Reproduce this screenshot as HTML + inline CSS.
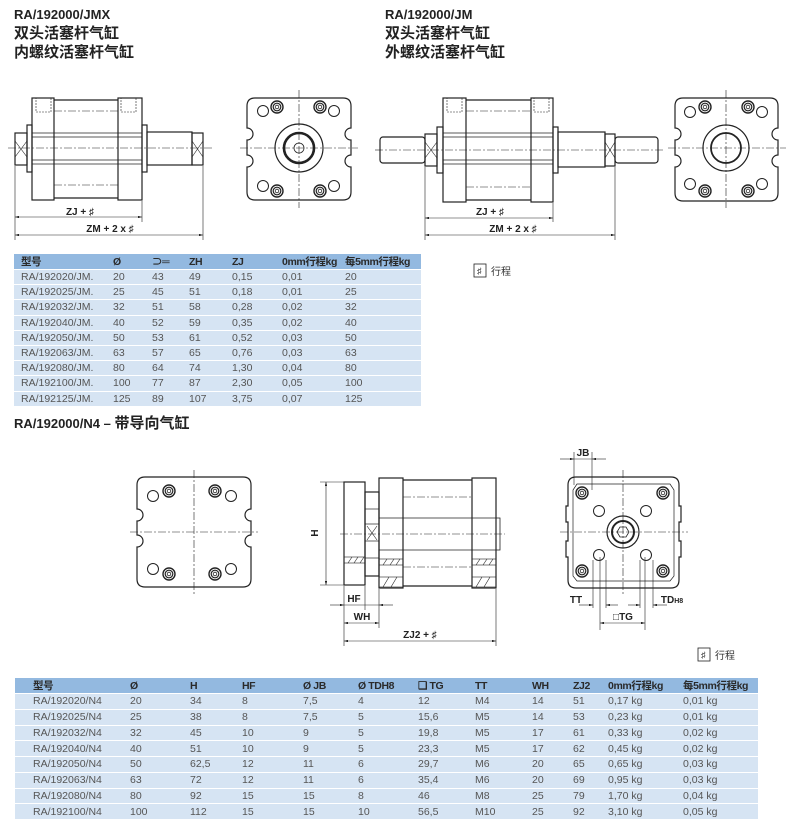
<!DOCTYPE html>
<html><head><meta charset="utf-8">
<style>
*{margin:0;padding:0;box-sizing:border-box}
body{width:790px;height:824px;background:#fff;position:relative;overflow:hidden;font-family:"Liberation Sans","Noto Sans CJK SC",sans-serif;color:#222}
.t{position:absolute;font-weight:bold;font-size:13px;line-height:19px}
.t .c{font-size:15px}
table{position:absolute;border-collapse:collapse;table-layout:fixed;font-family:"Liberation Sans Narrow","Liberation Sans","Noto Sans CJK SC",sans-serif;font-size:10.5px;color:#555}
td{padding:0;white-space:nowrap;overflow:hidden;border-bottom:1px solid #fff;vertical-align:middle}
tr.h td{background:#93b9e0;color:#2a2a2a;font-weight:bold;letter-spacing:-0.4px}
tr.r td{background:#d6e4f3}
#t1 tr.h td{height:14px} #t1 tr.r td{height:15.2px}
#t2 tr.h td{height:14px} #t2 tr.r td{height:15.75px}
</style></head><body>
<div class="t" style="left:14px;top:5px">RA/192000/JMX<br><span class="c">双头活塞杆气缸</span><br><span class="c">内螺纹活塞杆气缸</span></div>
<div class="t" style="left:385px;top:5px">RA/192000/JM<br><span class="c">双头活塞杆气缸</span><br><span class="c">外螺纹活塞杆气缸</span></div>
<div class="t" style="left:14px;top:414px">RA/192000/N4 – <span class="c">带导向气缸</span></div>

<svg width="790" height="824" style="position:absolute;left:0;top:0" xmlns="http://www.w3.org/2000/svg">
<defs>
<marker id="a" viewBox="0 0 10 6" refX="10" refY="3" markerWidth="8" markerHeight="4" orient="auto-start-reverse"><path d="M0,0L10,3L0,6z" fill="#222"/></marker>
<g id="cb"><circle r="6" fill="none" stroke="#222" stroke-width="1.4"/><circle r="3.8" fill="none" stroke="#222" stroke-width="1.2"/><circle r="1.8" fill="none" stroke="#222" stroke-width="0.8"/></g>
<g id="ph"><circle r="5.5" fill="none" stroke="#222" stroke-width="1"/></g>
</defs>
<g fill="none" stroke="#222" stroke-width="1.2">
<rect x="32" y="98" width="22" height="102"/><rect x="118" y="98" width="24" height="102"/>
<line x1="54" y1="100" x2="118" y2="100"/><line x1="54" y1="198" x2="118" y2="198"/>
<rect x="27" y="125" width="5" height="47"/><rect x="142" y="125" width="5" height="47"/>
<line x1="32" y1="133" x2="142" y2="133" stroke-width=".7"/><line x1="32" y1="137" x2="142" y2="137" stroke-width=".7"/>
<line x1="32" y1="160" x2="142" y2="160" stroke-width=".7"/><line x1="32" y1="164" x2="142" y2="164" stroke-width=".7"/>
<rect x="15" y="133" width="12" height="32"/><path d="M15,141L27,157M27,141L15,157" stroke-width=".6"/>
<rect x="147" y="132" width="45" height="33"/><rect x="192" y="133" width="11" height="32"/><path d="M192,141L203,157M203,141L192,157" stroke-width=".6"/>
<g stroke-width=".6" stroke-dasharray="8,2,2,2"><line x1="8" y1="148" x2="212" y2="148"/><line x1="54" y1="111" x2="118" y2="111"/><line x1="54" y1="185" x2="118" y2="185"/></g>
<g stroke-width=".6" stroke-dasharray="2,1"><rect x="36" y="98" width="15" height="14"/><rect x="121" y="98" width="15" height="14"/></g>
<g stroke-width=".6"><line x1="15" y1="166" x2="15" y2="240"/><line x1="142" y1="201" x2="142" y2="222"/><line x1="203" y1="166" x2="203" y2="240"/>
<line x1="15" y1="217" x2="142" y2="217" marker-start="url(#a)" marker-end="url(#a)"/><line x1="15" y1="235" x2="203" y2="235" marker-start="url(#a)" marker-end="url(#a)"/></g>
<path d="M255,98H343Q351,98 351,106V128A6,6 0 0 0 351,140V155A6,6 0 0 0 351,167V192Q351,200 343,200H255Q247,200 247,192V167A6,6 0 0 0 247,155V140A6,6 0 0 0 247,128V106Q247,98 255,98Z"/>
<circle cx="299" cy="148" r="24"/><circle cx="299" cy="148" r="15" stroke-width="2.6"/><circle cx="299" cy="148" r="5" stroke-width=".8"/>
<g stroke-width=".6" stroke-dasharray="8,2,2,2"><line x1="240" y1="148" x2="358" y2="148"/><line x1="299" y1="90" x2="299" y2="208"/></g>
<rect x="380" y="137" width="45" height="26" rx="3"/><rect x="425" y="134" width="12" height="32"/><path d="M425,142L437,158M437,142L425,158" stroke-width=".6"/>
<rect x="437" y="127" width="6" height="46"/>
<rect x="443" y="98" width="23" height="104"/><rect x="531" y="98" width="22" height="104"/>
<line x1="466" y1="100" x2="531" y2="100"/><line x1="466" y1="200" x2="531" y2="200"/>
<line x1="443" y1="133" x2="553" y2="133" stroke-width=".7"/><line x1="443" y1="137" x2="553" y2="137" stroke-width=".7"/>
<line x1="443" y1="160" x2="553" y2="160" stroke-width=".7"/><line x1="443" y1="164" x2="553" y2="164" stroke-width=".7"/>
<rect x="553" y="127" width="5" height="46"/><rect x="558" y="132" width="47" height="35"/>
<rect x="605" y="134" width="10" height="32"/><path d="M605,142L615,158M615,142L605,158" stroke-width=".6"/>
<rect x="615" y="137" width="43" height="26" rx="3"/>
<g stroke-width=".6" stroke-dasharray="8,2,2,2"><line x1="375" y1="150" x2="665" y2="150"/><line x1="466" y1="111" x2="531" y2="111"/><line x1="466" y1="187" x2="531" y2="187"/></g>
<g stroke-width=".6" stroke-dasharray="2,1"><rect x="447" y="98" width="15" height="14"/><rect x="534" y="98" width="15" height="14"/></g>
<g stroke-width=".6"><line x1="425" y1="167" x2="425" y2="240"/><line x1="553" y1="203" x2="553" y2="222"/><line x1="615" y1="167" x2="615" y2="240"/>
<line x1="425" y1="218" x2="553" y2="218" marker-start="url(#a)" marker-end="url(#a)"/><line x1="425" y1="235" x2="615" y2="235" marker-start="url(#a)" marker-end="url(#a)"/></g>
<path d="M683,98H770Q778,98 778,106V128A6,6 0 0 0 778,140V155A6,6 0 0 0 778,167V193Q778,201 770,201H683Q675,201 675,193V167A6,6 0 0 0 675,155V140A6,6 0 0 0 675,128V106Q675,98 683,98Z"/>
<circle cx="726" cy="148" r="23"/><circle cx="726" cy="148" r="15" stroke-width="1.8"/>
<g stroke-width=".6" stroke-dasharray="8,2,2,2"><line x1="668" y1="148" x2="786" y2="148"/><line x1="726" y1="90" x2="726" y2="208"/></g>
<path d="M145,477H243Q251,477 251,485V509A6,6 0 0 0 251,521V535A6,6 0 0 0 251,547V579Q251,587 243,587H145Q137,587 137,579V547A6,6 0 0 0 137,535V521A6,6 0 0 0 137,509V485Q137,477 145,477Z"/>
<g stroke-width=".6" stroke-dasharray="8,2,2,2"><line x1="130" y1="532" x2="258" y2="532"/><line x1="194" y1="470" x2="194" y2="594"/></g>
<rect x="344" y="482" width="21" height="103"/>
<rect x="365" y="492" width="14" height="84"/>
<line x1="365" y1="509" x2="379" y2="509" stroke-width=".7"/><line x1="365" y1="524" x2="379" y2="524" stroke-width=".7"/><line x1="365" y1="541" x2="379" y2="541" stroke-width=".7"/><line x1="365" y1="558" x2="379" y2="558" stroke-width=".7"/>
<path d="M367,526L377,540M377,526L367,540" stroke-width=".6"/>
<rect x="379" y="478" width="24" height="110"/><rect x="472" y="478" width="24" height="110"/>
<line x1="403" y1="480" x2="472" y2="480"/><line x1="403" y1="586" x2="472" y2="586"/>
<line x1="379" y1="518" x2="496" y2="518" stroke-width=".7"/><line x1="379" y1="550" x2="496" y2="550" stroke-width=".7"/>
<rect x="496" y="518" width="4" height="32" stroke-width=".8"/>
<g stroke-width=".6"><rect x="344" y="557" width="21" height="6"/><rect x="379" y="559" width="24" height="6"/><rect x="472" y="559" width="24" height="6"/><rect x="379" y="577" width="24" height="10"/><rect x="472" y="577" width="24" height="10"/>
<path d="M348,563l4,-6M354,563l4,-6M360,563l4,-6M383,565l4,-6M390,565l4,-6M396,565l4,-6M476,565l4,-6M483,565l4,-6M489,565l4,-6M383,587l6,-10M391,587l6,-10M476,587l6,-10M484,587l6,-10"/></g>
<g stroke-width=".6" stroke-dasharray="8,2,2,2"><line x1="340" y1="534" x2="505" y2="534"/><line x1="403" y1="497" x2="472" y2="497"/><line x1="403" y1="567" x2="472" y2="567"/></g>
<g stroke-width=".6"><line x1="320" y1="482" x2="344" y2="482"/><line x1="320" y1="585" x2="344" y2="585"/>
<line x1="326" y1="482" x2="326" y2="585" marker-start="url(#a)" marker-end="url(#a)"/>
<line x1="344" y1="586" x2="344" y2="646"/><line x1="379" y1="589" x2="379" y2="628"/><line x1="365" y1="586" x2="365" y2="610"/><line x1="496" y1="589" x2="496" y2="646"/>
<line x1="330" y1="605" x2="344" y2="605" marker-end="url(#a)"/><line x1="379" y1="605" x2="393" y2="605" marker-start="url(#a)"/><line x1="344" y1="605" x2="379" y2="605"/>
<line x1="344" y1="623" x2="379" y2="623" marker-start="url(#a)" marker-end="url(#a)"/>
<line x1="344" y1="641" x2="496" y2="641" marker-start="url(#a)" marker-end="url(#a)"/></g>
<path d="M576,477H671Q679,477 679,485V506H681V522H679V541H681V557H679V580Q679,588 671,588H576Q568,588 568,580V557H566V541H568V522H566V506H568V485Q568,477 576,477Z"/>
<path d="M577,484H670L674,490V576L670,581H577L573,576V490Z" stroke-width=".7"/>
<circle cx="623" cy="532" r="16"/><circle cx="623" cy="532" r="11" stroke-width="2"/><path d="M617,532l3,-5h6l3,5l-3,5h-6z" stroke-width=".8"/>
<g stroke-width=".6" stroke-dasharray="8,2,2,2"><line x1="560" y1="532" x2="688" y2="532"/><line x1="623" y1="470" x2="623" y2="596"/></g>
<g stroke-width=".6"><line x1="574" y1="452" x2="574" y2="485"/><line x1="592" y1="452" x2="592" y2="490"/>
<line x1="560" y1="459" x2="574" y2="459" marker-end="url(#a)"/><line x1="592" y1="459" x2="606" y2="459" marker-start="url(#a)"/><line x1="574" y1="459" x2="592" y2="459"/>
<line x1="600" y1="557" x2="600" y2="630"/><line x1="645" y1="557" x2="645" y2="630"/>
<line x1="600" y1="623" x2="645" y2="623" marker-start="url(#a)" marker-end="url(#a)"/>
<line x1="593" y1="560" x2="593" y2="608"/><line x1="606" y1="560" x2="606" y2="608"/><line x1="640" y1="560" x2="640" y2="608"/><line x1="653" y1="560" x2="653" y2="608"/>
<line x1="579" y1="605" x2="593" y2="605" marker-end="url(#a)"/><line x1="606" y1="605" x2="618" y2="605" marker-start="url(#a)"/>
<line x1="628" y1="605" x2="640" y2="605" marker-end="url(#a)"/><line x1="653" y1="605" x2="667" y2="605" marker-start="url(#a)"/></g>
<rect x="474" y="264" width="12" height="13" stroke-width=".8"/><rect x="698" y="648" width="12" height="13" stroke-width=".8"/>
</g>
<use href="#cb" x="277" y="107"/><use href="#cb" x="320" y="107"/><use href="#cb" x="277" y="191"/><use href="#cb" x="320" y="191"/>
<use href="#ph" x="263" y="111"/><use href="#ph" x="334" y="111"/><use href="#ph" x="263" y="186"/><use href="#ph" x="334" y="186"/>
<use href="#cb" x="705" y="107"/><use href="#cb" x="748" y="107"/><use href="#cb" x="705" y="191"/><use href="#cb" x="748" y="191"/>
<use href="#ph" x="690" y="112"/><use href="#ph" x="762" y="112"/><use href="#ph" x="690" y="184"/><use href="#ph" x="762" y="184"/>
<use href="#cb" x="169" y="491"/><use href="#cb" x="215" y="491"/><use href="#cb" x="169" y="574"/><use href="#cb" x="215" y="574"/>
<use href="#ph" x="153" y="496"/><use href="#ph" x="231" y="496"/><use href="#ph" x="153" y="569"/><use href="#ph" x="231" y="569"/>
<use href="#cb" x="582" y="493"/><use href="#cb" x="663" y="493"/><use href="#cb" x="582" y="571"/><use href="#cb" x="663" y="571"/>
<use href="#ph" x="599" y="511"/><use href="#ph" x="646" y="511"/><use href="#ph" x="599" y="555"/><use href="#ph" x="646" y="555"/>
<g font-family="Liberation Sans, sans-serif" font-weight="bold" font-size="10" fill="#222" text-anchor="middle">
<text x="80" y="215">ZJ  +  ♯</text><text x="110" y="232">ZM  +  2  x  ♯</text>
<text x="490" y="215">ZJ  +  ♯</text><text x="513" y="232">ZM  +  2  x  ♯</text>
<text x="318" y="533" transform="rotate(-90 318 533)">H</text>
<text x="354" y="602">HF</text><text x="362" y="620">WH</text><text x="420" y="638">ZJ2  +  ♯</text>
<text x="583" y="456">JB</text><text x="576" y="603">TT</text><text x="672" y="603">TD<tspan font-size="7">H8</tspan></text><text x="623" y="620">□TG</text>
</g>
<g font-family="Liberation Sans, Noto Sans CJK SC, sans-serif" font-size="10" fill="#333">
<text x="477" y="274" font-size="9">♯</text><text x="491" y="275">行程</text>
<text x="701" y="658" font-size="9">♯</text><text x="715" y="659">行程</text>
</g>
</svg>

<table id="t1" style="left:14px;top:254px;width:407px">
<colgroup><col style="width:99px"><col style="width:39px"><col style="width:37px"><col style="width:43px"><col style="width:50px"><col style="width:63px"><col style="width:76px"></colgroup>
<tr class="h"><td style="padding-left:7px">型号</td><td>Ø</td><td>⊃═</td><td>ZH</td><td>ZJ</td><td>0mm行程kg</td><td>每5mm行程kg</td></tr>
<tr class="r"><td style="padding-left:7px">RA/192020/JM.</td><td>20</td><td>43</td><td>49</td><td>0,15</td><td>0,01</td><td>20</td></tr>
<tr class="r"><td style="padding-left:7px">RA/192025/JM.</td><td>25</td><td>45</td><td>51</td><td>0,18</td><td>0,01</td><td>25</td></tr>
<tr class="r"><td style="padding-left:7px">RA/192032/JM.</td><td>32</td><td>51</td><td>58</td><td>0,28</td><td>0,02</td><td>32</td></tr>
<tr class="r"><td style="padding-left:7px">RA/192040/JM.</td><td>40</td><td>52</td><td>59</td><td>0,35</td><td>0,02</td><td>40</td></tr>
<tr class="r"><td style="padding-left:7px">RA/192050/JM.</td><td>50</td><td>53</td><td>61</td><td>0,52</td><td>0,03</td><td>50</td></tr>
<tr class="r"><td style="padding-left:7px">RA/192063/JM.</td><td>63</td><td>57</td><td>65</td><td>0,76</td><td>0,03</td><td>63</td></tr>
<tr class="r"><td style="padding-left:7px">RA/192080/JM.</td><td>80</td><td>64</td><td>74</td><td>1,30</td><td>0,04</td><td>80</td></tr>
<tr class="r"><td style="padding-left:7px">RA/192100/JM.</td><td>100</td><td>77</td><td>87</td><td>2,30</td><td>0,05</td><td>100</td></tr>
<tr class="r"><td style="padding-left:7px">RA/192125/JM.</td><td>125</td><td>89</td><td>107</td><td>3,75</td><td>0,07</td><td>125</td></tr>
</table>

<table id="t2" style="left:15px;top:678px;width:743px">
<colgroup><col style="width:115px"><col style="width:60px"><col style="width:52px"><col style="width:61px"><col style="width:55px"><col style="width:60px"><col style="width:57px"><col style="width:57px"><col style="width:41px"><col style="width:35px"><col style="width:75px"><col style="width:75px"></colgroup>
<tr class="h"><td style="padding-left:18px">型号</td><td>Ø</td><td>H</td><td>HF</td><td>Ø JB</td><td>Ø TDH8</td><td>❑ TG</td><td>TT</td><td>WH</td><td>ZJ2</td><td>0mm行程kg</td><td>每5mm行程kg</td></tr>
<tr class="r"><td style="padding-left:18px">RA/192020/N4</td><td>20</td><td>34</td><td>8</td><td>7,5</td><td>4</td><td>12</td><td>M4</td><td>14</td><td>51</td><td>0,17 kg</td><td>0,01 kg</td></tr>
<tr class="r"><td style="padding-left:18px">RA/192025/N4</td><td>25</td><td>38</td><td>8</td><td>7,5</td><td>5</td><td>15,6</td><td>M5</td><td>14</td><td>53</td><td>0,23 kg</td><td>0,01 kg</td></tr>
<tr class="r"><td style="padding-left:18px">RA/192032/N4</td><td>32</td><td>45</td><td>10</td><td>9</td><td>5</td><td>19,8</td><td>M5</td><td>17</td><td>61</td><td>0,33 kg</td><td>0,02 kg</td></tr>
<tr class="r"><td style="padding-left:18px">RA/192040/N4</td><td>40</td><td>51</td><td>10</td><td>9</td><td>5</td><td>23,3</td><td>M5</td><td>17</td><td>62</td><td>0,45 kg</td><td>0,02 kg</td></tr>
<tr class="r"><td style="padding-left:18px">RA/192050/N4</td><td>50</td><td>62,5</td><td>12</td><td>11</td><td>6</td><td>29,7</td><td>M6</td><td>20</td><td>65</td><td>0,65 kg</td><td>0,03 kg</td></tr>
<tr class="r"><td style="padding-left:18px">RA/192063/N4</td><td>63</td><td>72</td><td>12</td><td>11</td><td>6</td><td>35,4</td><td>M6</td><td>20</td><td>69</td><td>0,95 kg</td><td>0,03 kg</td></tr>
<tr class="r"><td style="padding-left:18px">RA/192080/N4</td><td>80</td><td>92</td><td>15</td><td>15</td><td>8</td><td>46</td><td>M8</td><td>25</td><td>79</td><td>1,70 kg</td><td>0,04 kg</td></tr>
<tr class="r"><td style="padding-left:18px">RA/192100/N4</td><td>100</td><td>112</td><td>15</td><td>15</td><td>10</td><td>56,5</td><td>M10</td><td>25</td><td>92</td><td>3,10 kg</td><td>0,05 kg</td></tr>
</table>
</body></html>
